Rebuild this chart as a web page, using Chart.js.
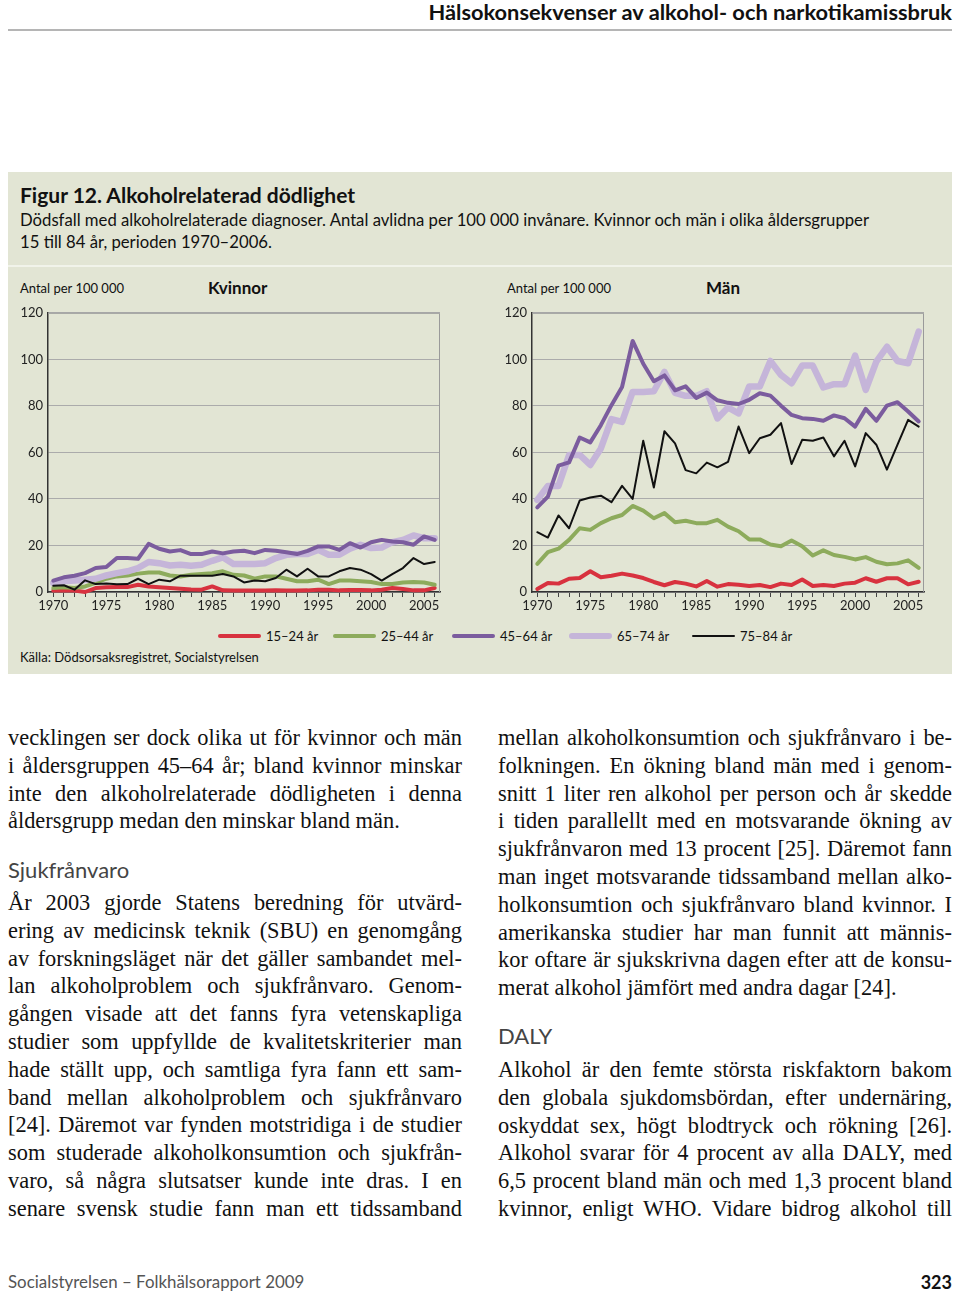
<!DOCTYPE html>
<html lang="sv">
<head>
<meta charset="utf-8">
<title>Figur 12. Alkoholrelaterad dödlighet</title>
<script src="https://cdn.jsdelivr.net/npm/chart.js@4/dist/chart.umd.min.js"></script>
<style>
  html, body { margin: 0; padding: 0; background: #fff; }
  body { width: 960px; height: 1296px; position: relative; overflow: hidden; font-family: Lato, "Open Sans", sans-serif; color: #111; }
  .abs { position: absolute; white-space: nowrap; }
  #runhead { right: 8px; top: 0px; font-size: 21.8px; font-weight: bold; line-height: 24px; color: #111; }
  #rule { left: 8px; top: 29px; width: 944px; height: 2px; background: #b5b5b5; }
  #box { left: 8px; top: 172px; width: 944px; height: 502px; background: #e2e5d4; }
  #sep { left: 8px; top: 265px; width: 944px; height: 2px; background: #f1f3ea; }
  #ftitle { left: 20px; top: 181px; font-size: 21px; font-weight: bold; line-height: 28px; }
  .sub { left: 20px; font-size: 16.7px; line-height: 22px; }
  .axlab { font-size: 13px; line-height: 16px; }
  .panel { font-size: 17px; font-weight: bold; line-height: 20px; }
  canvas { position: absolute; }
  .sw { position: absolute; border-radius: 3px; }
  .lg { font-size: 13px; line-height: 16px; }
  .col { position: absolute; width: 454px; font-family: "Liberation Serif", "Times New Roman", serif; font-size: 22.4px; line-height: 27.8px; color: #111; }
  .col div { white-space: nowrap; }
  .j { text-align: justify; text-align-last: justify; }
  .h { font-family: Lato, sans-serif; font-size: 22px; color: #444; }
  #foot { left: 8px; top: 1270px; font-size: 16.9px; color: #555; line-height: 24px; }
  #page { right: 8px; top: 1270px; font-size: 18px; font-weight: bold; line-height: 24px; }
</style>
</head>
<body>
<div id="runhead" class="abs">Hälsokonsekvenser av alkohol- och narkotikamissbruk</div>
<div id="rule" class="abs"></div>

<div id="box" class="abs"></div>
<div id="sep" class="abs"></div>
<div id="ftitle" class="abs">Figur 12. Alkoholrelaterad dödlighet</div>
<div class="abs sub" style="top:209px">Dödsfall med alkoholrelaterade diagnoser. Antal avlidna per 100 000 invånare. Kvinnor och män i olika åldersgrupper</div>
<div class="abs sub" style="top:231px">15 till 84 år, perioden 1970–2006.</div>

<div class="abs axlab" style="left:20px; top:280px">Antal per 100 000</div>
<div class="abs panel" style="left:208px; top:278px">Kvinnor</div>
<div class="abs axlab" style="left:507px; top:280px">Antal per 100 000</div>
<div class="abs panel" style="left:706px; top:278px">Män</div>

<canvas id="kvinnor" width="450" height="320" style="left:0px; top:300px"></canvas>
<canvas id="man" width="450" height="320" style="left:484px; top:300px"></canvas>

<div id="legend"></div>
<div class="abs lg" style="left:20px; top:649px">Källa: Dödsorsaksregistret, Socialstyrelsen</div>

<div class="col" style="left:8px; top:724px">
  <div class="j">vecklingen ser dock olika ut för kvinnor och män</div>
  <div class="j">i åldersgruppen 45–64 år; bland kvinnor minskar</div>
  <div class="j">inte den alkoholrelaterade dödligheten i denna</div>
  <div>åldersgrupp medan den minskar bland män.</div>
</div>
<div class="abs h" style="left:8px; top:856px; line-height:28px">Sjukfrånvaro</div>
<div class="col" style="left:8px; top:889px">
  <div class="j">År 2003 gjorde Statens beredning för utvärd-</div>
  <div class="j">ering av medicinsk teknik (SBU) en genomgång</div>
  <div class="j">av forskningsläget när det gäller sambandet mel-</div>
  <div class="j">lan alkoholproblem och sjukfrånvaro. Genom-</div>
  <div class="j">gången visade att det fanns fyra vetenskapliga</div>
  <div class="j">studier som uppfyllde de kvalitetskriterier man</div>
  <div class="j">hade ställt upp, och samtliga fyra fann ett sam-</div>
  <div class="j">band mellan alkoholproblem och sjukfrånvaro</div>
  <div class="j">[24]. Däremot var fynden motstridiga i de studier</div>
  <div class="j">som studerade alkoholkonsumtion och sjukfrån-</div>
  <div class="j">varo, så några slutsatser kunde inte dras. I en</div>
  <div class="j">senare svensk studie fann man ett tidssamband</div>
</div>

<div class="col" style="left:498px; top:724px">
  <div class="j">mellan alkoholkonsumtion och sjukfrånvaro i be-</div>
  <div class="j">folkningen. En ökning bland män med i genom-</div>
  <div class="j">snitt 1 liter ren alkohol per person och år skedde</div>
  <div class="j">i tiden parallellt med en motsvarande ökning av</div>
  <div class="j">sjukfrånvaron med 13 procent [25]. Däremot fann</div>
  <div class="j">man inget motsvarande tidssamband mellan alko-</div>
  <div class="j">holkonsumtion och sjukfrånvaro bland kvinnor. I</div>
  <div class="j">amerikanska studier har man funnit att männis-</div>
  <div class="j">kor oftare är sjukskrivna dagen efter att de konsu-</div>
  <div>merat alkohol jämfört med andra dagar [24].</div>
</div>
<div class="abs h" style="left:498px; top:1022px; line-height:28px">DALY</div>
<div class="col" style="left:498px; top:1056px">
  <div class="j">Alkohol är den femte största riskfaktorn bakom</div>
  <div class="j">den globala sjukdomsbördan, efter undernäring,</div>
  <div class="j">oskyddat sex, högt blodtryck och rökning [26].</div>
  <div class="j">Alkohol svarar för 4 procent av alla DALY, med</div>
  <div class="j">6,5 procent bland män och med 1,3 procent bland</div>
  <div class="j">kvinnor, enligt WHO. Vidare bidrog alkohol till</div>
</div>

<div id="foot" class="abs">Socialstyrelsen – Folkhälsorapport 2009</div>
<div id="page" class="abs">323</div>

<script>
// years on the x axis
const years = [1970, 1971, 1972, 1973, 1974, 1975, 1976, 1977, 1978, 1979,
               1980, 1981, 1982, 1983, 1984, 1985, 1986, 1987, 1988, 1989,
               1990, 1991, 1992, 1993, 1994, 1995, 1996, 1997, 1998, 1999,
               2000, 2001, 2002, 2003, 2004, 2005, 2006];
const yTicks = [0, 20, 40, 60, 80, 100, 120];
const ageGroups = ["15–24 år", "25–44 år", "45–64 år", "65–74 år", "75–84 år"];

// Kvinnor, deaths per 100 000
const kv15_24 = [0.6, 0.7, 0.6, 0.0, 1.7, 2.0, 2.1, 2.1, 3.1, 2.4,
                 2.0, 1.7, 1.4, 1.1, 1.0, 2.4, 0.7, 0.6, 0.6, 0.6,
                 0.6, 0.7, 0.6, 0.6, 0.7, 1.0, 1.0, 0.7, 0.9, 0.9,
                 0.7, 1.0, 1.7, 1.3, 0.7, 0.7, 1.7];
const kv25_44 = [1.7, 2.0, 1.7, 2.4, 3.9, 5.7, 6.7, 7.1, 7.9, 8.4,
                 8.4, 7.1, 6.7, 7.4, 7.7, 8.1, 8.9, 7.4, 7.1, 5.7,
                 6.7, 6.7, 5.7, 4.6, 4.6, 5.3, 3.4, 4.9, 4.9, 4.6,
                 4.3, 3.4, 3.4, 4.1, 4.3, 4.1, 3.1];
const kv45_64 = [4.9, 6.3, 7.0, 8.1, 10.3, 10.7, 14.6, 14.6, 14.3, 20.7,
                 18.6, 17.4, 18.0, 16.3, 16.3, 17.4, 16.6, 17.4, 17.7, 16.7,
                 18.1, 17.7, 17.1, 16.3, 17.7, 19.6, 19.6, 18.1, 21.0, 19.1,
                 21.4, 22.4, 21.7, 21.4, 20.3, 23.9, 22.4];
const kv65_74 = [3.9, 4.6, 4.9, 5.3, 5.7, 7.1, 8.1, 8.9, 10.3, 12.9,
                 12.4, 11.4, 11.7, 11.3, 11.7, 13.4, 14.9, 12.0, 12.0, 12.0,
                 12.4, 14.6, 16.0, 16.3, 16.3, 18.1, 16.0, 16.0, 18.6, 20.3,
                 18.9, 19.1, 21.4, 22.4, 24.3, 23.1, 23.1];
const kv75_84 = [2.7, 2.9, 1.0, 5.0, 3.4, 3.7, 3.3, 3.4, 5.7, 3.4,
                 5.3, 4.6, 7.0, 7.0, 7.0, 7.0, 7.7, 6.7, 4.1, 4.9,
                 4.6, 6.0, 9.6, 6.7, 10.0, 6.7, 6.7, 8.9, 10.3, 9.6,
                 7.7, 4.9, 7.7, 10.3, 14.6, 12.0, 12.9];

// Män, deaths per 100 000
const man15_24 = [1.3, 3.9, 3.6, 5.7, 6.0, 8.9, 6.3, 7.0, 7.9, 7.1,
                  6.0, 4.3, 2.9, 4.3, 3.6, 2.4, 4.7, 2.3, 3.4, 3.1,
                  2.6, 3.0, 2.1, 3.6, 3.0, 5.4, 2.6, 3.0, 2.6, 3.6,
                  4.0, 5.9, 4.4, 5.9, 5.9, 3.3, 4.4];
const man25_44 = [12.1, 17.1, 18.6, 22.4, 27.4, 26.7, 29.6, 31.7, 33.1, 37.0,
                  35.0, 31.7, 33.9, 30.0, 30.6, 29.6, 29.6, 31.0, 28.1, 26.1,
                  22.6, 22.6, 20.4, 19.7, 22.1, 19.7, 15.7, 17.9, 15.9, 15.1,
                  14.0, 15.0, 13.0, 11.9, 12.3, 13.6, 10.4];
const man45_64 = [36.4, 41.0, 54.3, 55.7, 66.4, 64.3, 71.7, 80.3, 88.1, 107.9,
                  98.1, 90.6, 93.1, 86.7, 88.4, 83.4, 85.7, 82.4, 81.3, 80.8,
                  82.6, 85.4, 84.4, 80.1, 76.1, 74.7, 74.4, 73.6, 75.9, 74.7,
                  71.1, 78.7, 73.6, 80.1, 81.6, 77.6, 73.3];
const man65_74 = [39.6, 45.6, 45.6, 58.9, 58.9, 54.6, 61.7, 74.3, 73.1, 86.0,
                  86.0, 86.3, 94.6, 85.6, 84.3, 84.3, 86.3, 74.6, 79.3, 76.8,
                  88.3, 88.3, 99.3, 93.3, 89.7, 97.3, 97.3, 87.9, 89.3, 89.3,
                  101.6, 86.9, 99.0, 105.4, 99.3, 98.3, 111.9];
const man75_84 = [25.7, 23.4, 32.9, 27.4, 39.3, 40.6, 41.4, 38.6, 45.6, 40.0,
                  65.0, 44.9, 69.1, 63.9, 52.4, 51.0, 55.6, 53.6, 55.9, 71.1,
                  59.7, 66.1, 67.6, 72.6, 55.0, 65.4, 65.0, 66.4, 58.3, 65.0,
                  54.0, 68.3, 63.3, 52.6, 63.3, 74.0, 71.1];

const colors = ["#d8323f", "#8dab5c", "#7b5c9e", "#c5b5d9", "#111111"];
const widths = [4, 4, 4, 6.5, 2];

Chart.defaults.font.family = "Lato, 'Open Sans', sans-serif";
Chart.defaults.font.size = 13;
Chart.defaults.color = "#222";

// gray frame round the plot area
const framePlugin = {
  id: "frame",
  afterDraw(chart) {
    const a = chart.chartArea, c = chart.ctx;
    c.save();
    c.strokeStyle = "#9a9a9a";
    c.lineWidth = 1;
    c.beginPath();
    c.moveTo(a.left, a.top + 0.5);
    c.lineTo(a.right - 0.5, a.top + 0.5);
    c.lineTo(a.right - 0.5, a.bottom);
    c.stroke();
    c.restore();
  }
};

function makeChart(id, series) {
  // black first so it is drawn on top, red last
  const idx = [4, 2, 3, 1, 0];
  const datasets = idx.map(i => ({
    label: ageGroups[i],
    data: series[i],
    borderColor: colors[i],
    backgroundColor: colors[i],
    borderWidth: widths[i],
    pointRadius: 0,
    tension: 0,
    borderJoinStyle: "round",
    borderCapStyle: "round",
    clip: 8
  }));
  return new Chart(document.getElementById(id), {
    type: "line",
    data: { labels: years, datasets },
    options: {
      responsive: false,
      animation: false,
      layout: { padding: { top: 12, right: 10, left: 0, bottom: 0 } },
      plugins: { legend: { display: false }, tooltip: { enabled: false } },
      scales: {
        x: {
          offset: true,
          grid: { offset: false, drawOnChartArea: false, drawTicks: true, tickLength: 5, color: "#444" },
          border: { color: "#333", width: 1.5 },
          ticks: {
            autoSkip: false, maxRotation: 0, padding: 1,
            callback(v) {
              const y = this.getLabelForValue(v);
              return y % 5 === 0 ? String(y) : "";
            }
          },
          afterFit(s) { s.height = 28; }
        },
        y: {
          min: yTicks[0], max: yTicks[yTicks.length - 1],
          afterBuildTicks(s) { s.ticks = yTicks.map(v => ({ value: v })); },
          grid: { color: "#ababab", drawTicks: false },
          border: { color: "#333", width: 1.5 },
          ticks: { padding: 5 },
          afterFit(s) { s.width = 48; }
        }
      }
    },
    plugins: [framePlugin]
  });
}

makeChart("kvinnor", [kv15_24, kv25_44, kv45_64, kv65_74, kv75_84]);
makeChart("man", [man15_24, man25_44, man45_64, man65_74, man75_84]);

// shared legend under both panels
const legend = document.getElementById("legend");
const swX = [218, 333, 452, 569, 692];
ageGroups.forEach((g, i) => {
  const sw = document.createElement("div");
  sw.className = "sw";
  sw.style.left = swX[i] + "px";
  sw.style.width = "43px";
  sw.style.height = widths[i] + "px";
  sw.style.top = (636 - widths[i] / 2) + "px";
  sw.style.background = colors[i];
  legend.appendChild(sw);
  const t = document.createElement("div");
  t.className = "abs lg";
  t.style.left = (swX[i] + 48) + "px";
  t.style.top = "628px";
  t.textContent = g;
  legend.appendChild(t);
});
</script>
</body>
</html>
